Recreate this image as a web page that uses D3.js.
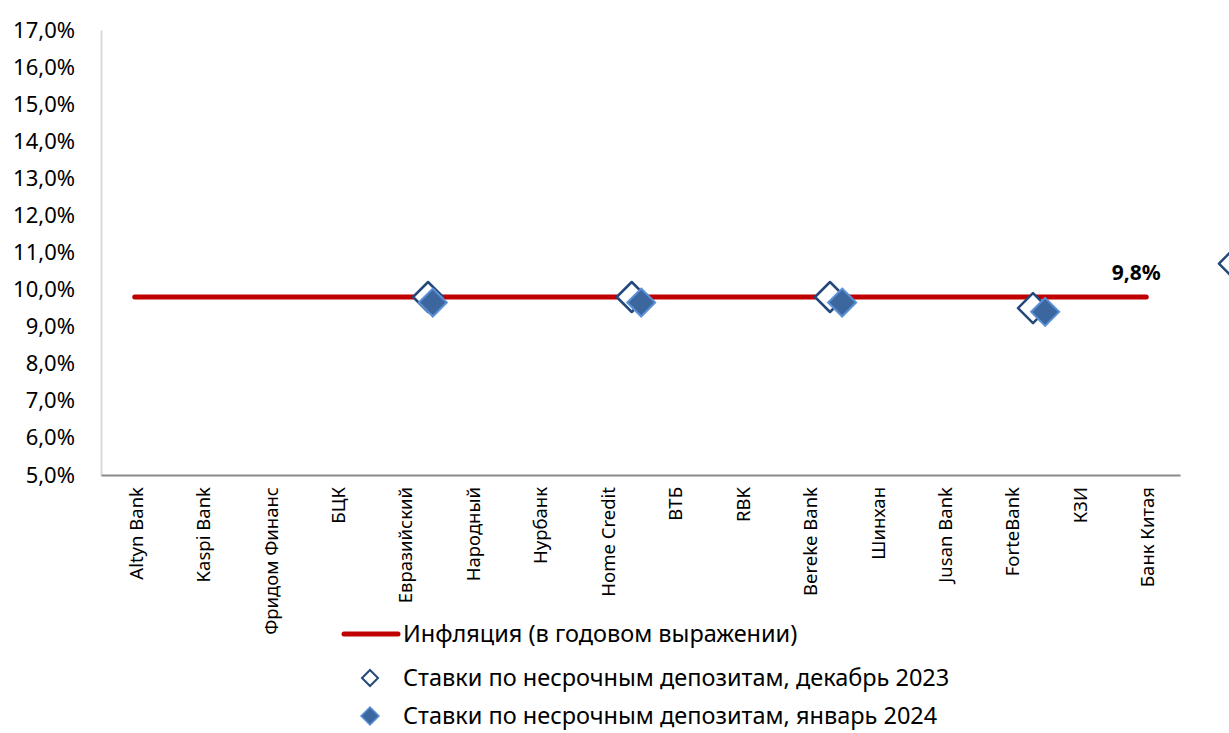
<!DOCTYPE html>
<html><head><meta charset="utf-8">
<script src="https://cdn.jsdelivr.net/npm/d3@7"></script>
<style>body{margin:0;background:#fff}svg{display:block;font-family:"Noto Sans",sans-serif}</style>
</head><body><svg id="c" width="1229" height="733"></svg>
<script>
const categories = ["Altyn Bank","Kaspi Bank","Фридом Финанс","БЦК","Евразийский","Народный","Нурбанк","Home Credit","ВТБ","RBK","Bereke Bank","Шинхан","Jusan Bank","ForteBank","КЗИ","Банк Китая"];
const inflation = [9.8,9.8,9.8,9.8,9.8,9.8,9.8,9.8,9.8,9.8,9.8,9.8,9.8,9.8,9.8,9.8];
// marker positions (fractional category index) and values
const decPos = [4.35, 7.37, 10.31, 13.32, 16.3];
const decVal = [9.8, 9.8, 9.8, 9.5, 10.7];
const janPos = [4.42, 7.51, 10.49, 13.5];
const janVal = [9.65, 9.65, 9.65, 9.4];
const yTicks = [5,6,7,8,9,10,11,12,13,14,15,16,17];
const inflLabel = "9,8%";
const legendLabels = ["Инфляция (в годовом выражении)","Ставки по несрочным депозитам, декабрь 2023","Ставки по несрочным депозитам, январь 2024"];

const svg = d3.select("#c");
const L=101, R=1180, T=30, B=475;
const x = d3.scaleLinear().domain([-0.5, categories.length-0.5]).range([L,R]);
const y = d3.scaleLinear().domain([5,17]).range([B,T]);
const fmt = v => d3.format(".1f")(v).replace(".", ",") + "%";

// y axis
const ya = svg.append("g").attr("transform",`translate(${L},0)`)
  .call(d3.axisLeft(y).tickValues(yTicks).tickFormat(fmt).tickSize(0).tickPadding(26));
ya.select(".domain").attr("stroke","#d9d9d9").attr("stroke-width",2);
ya.selectAll("text").attr("font-size",22).attr("fill","#000").attr("font-family","Noto Sans");

// x axis
const xa = svg.append("g").attr("transform",`translate(0,${B})`)
  .call(d3.axisBottom(x).tickValues(d3.range(categories.length)).tickFormat(i=>categories[i]).tickSize(0));
xa.select(".domain").attr("stroke","#898989").attr("stroke-width",2);
xa.selectAll("text").attr("font-size",18.5).attr("fill","#000").attr("font-family","Noto Sans")
  .attr("text-anchor","end").attr("dy",null).attr("dominant-baseline","central")
  .attr("transform","translate(0,12) rotate(-90)").attr("x",0).attr("y",0);

// inflation line
svg.append("path").datum(inflation)
  .attr("d", d3.line().x((d,i)=>x(i)).y(d=>y(d)))
  .attr("fill","none").attr("stroke","#C00000").attr("stroke-width",5).attr("stroke-linecap","round");

const diamond = r => `M0,${-r}L${r},0L0,${r}L${-r},0Z`;

// December hollow
svg.append("g").selectAll("path").data(decPos).join("path")
  .attr("d", diamond(15))
  .attr("transform",(d,i)=>`translate(${x(d)},${y(decVal[i])})`)
  .attr("fill","#fff").attr("stroke","#24487A").attr("stroke-width",2.5).attr("stroke-linejoin","round");

// January filled
svg.append("g").selectAll("path").data(janPos).join("path")
  .attr("d", diamond(14))
  .attr("transform",(d,i)=>`translate(${x(d)},${y(janVal[i])})`)
  .attr("fill","#3C679E").attr("stroke","#5B8FD6").attr("stroke-width",2);

// label
svg.append("text").attr("x", x(categories.length-1)-10).attr("y", y(inflation[inflation.length-1])-17)
  .attr("text-anchor","middle").attr("font-size",21).attr("font-weight","bold").text(inflLabel);

// legend
const lg = svg.append("g");
lg.append("line").attr("x1",344).attr("x2",398).attr("y1",634).attr("y2",634)
  .attr("stroke","#C00000").attr("stroke-width",5).attr("stroke-linecap","round");
lg.append("path").attr("d",diamond(8)).attr("transform","translate(370,678)")
  .attr("fill","#fff").attr("stroke","#24487A").attr("stroke-width",2);
lg.append("path").attr("d",diamond(9)).attr("transform","translate(370,716)")
  .attr("fill","#3C679E").attr("stroke","#5B8FD6").attr("stroke-width",1.5);
lg.selectAll("text").data(legendLabels).join("text")
  .attr("x",403).attr("y",(d,i)=>[633,677,715][i]).attr("dominant-baseline","central")
  .attr("font-size",23.5).attr("fill","#000").text(d=>d);
</script></body></html>
